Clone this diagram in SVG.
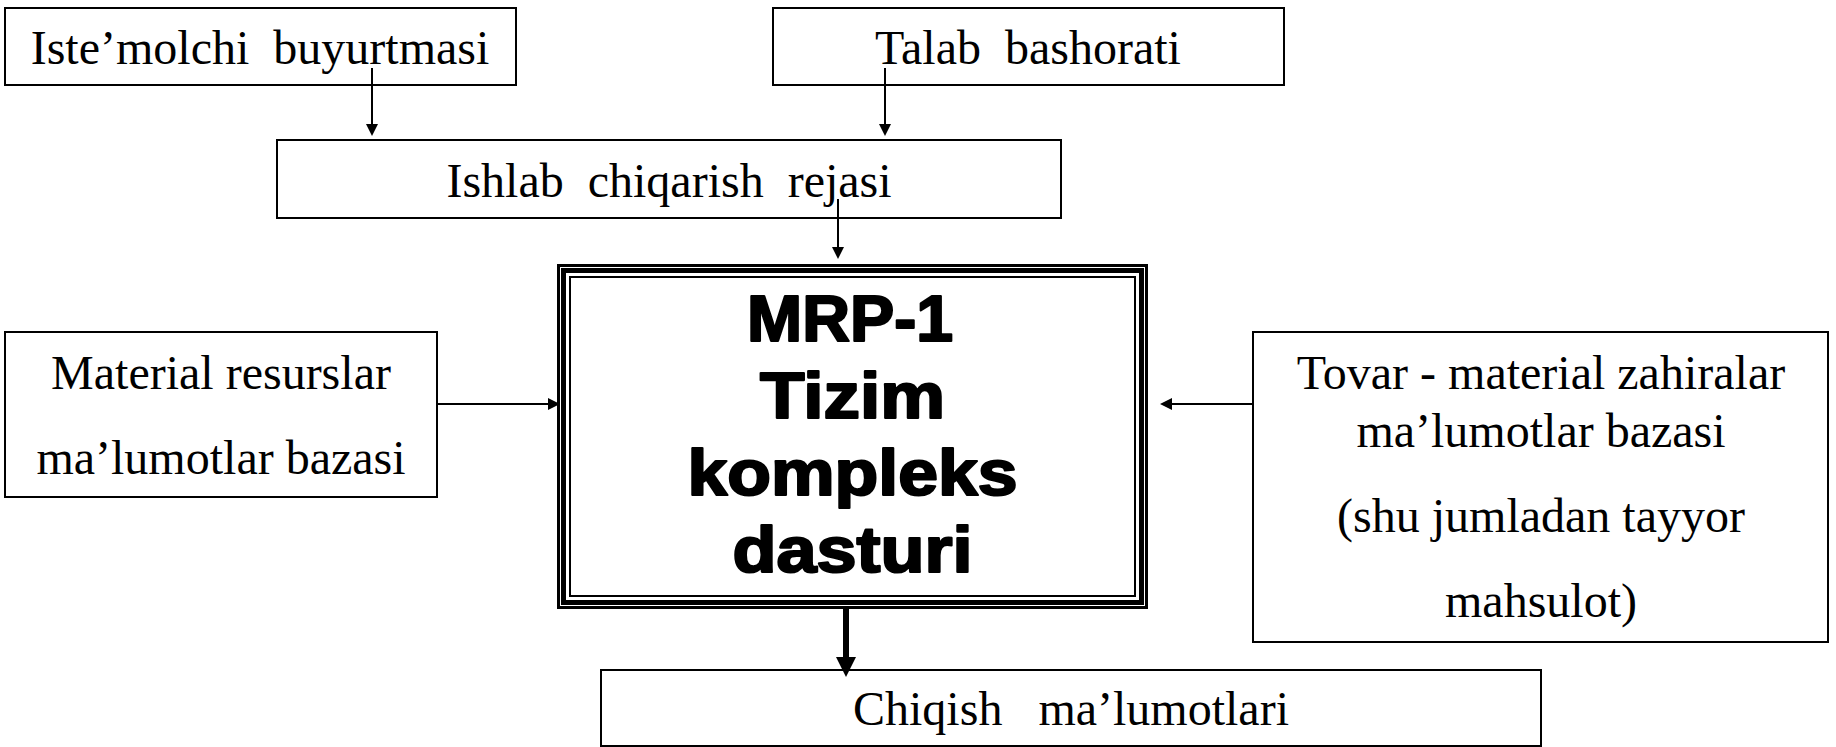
<svg xmlns="http://www.w3.org/2000/svg" width="1836" height="747" viewBox="0 0 1836 747">
<style>
.box{fill:#fff;stroke:#000;stroke-width:2}
.t{font-family:"Liberation Serif","Times New Roman",serif;font-size:48px;fill:#000;text-anchor:middle}
.b{font-family:"Liberation Sans",Arial,sans-serif;font-size:64px;font-weight:bold;fill:#000;stroke:#000;stroke-width:2.2;stroke-linejoin:round;text-anchor:middle}
.c{stroke:#000;stroke-width:2;fill:none}
.ct{stroke:#000;stroke-width:6;fill:none}
</style>
<defs>
<marker id="ah" viewBox="0 0 10 10" refX="0" refY="5" markerWidth="15" markerHeight="12" markerUnits="userSpaceOnUse" orient="auto"><path d="M0,0 L10,5 L0,10 z" fill="#000"/></marker>
<marker id="ahb" viewBox="0 0 10 10" refX="0" refY="5" markerWidth="20" markerHeight="20" markerUnits="userSpaceOnUse" orient="auto"><path d="M0,0 L10,5 L0,10 z" fill="#000"/></marker>
</defs>
<rect width="1836" height="747" fill="#fff"/>
<g id="n1"><rect class="box" x="5" y="8" width="511" height="77"/><text class="t" x="260" y="64" xml:space="preserve">Iste’molchi  buyurtmasi</text></g>
<g id="n2"><rect class="box" x="773" y="8" width="511" height="77"/><text class="t" x="1028" y="64" xml:space="preserve">Talab  bashorati</text></g>
<g id="n3"><rect class="box" x="277" y="140" width="784" height="78"/><text class="t" x="669" y="197" xml:space="preserve">Ishlab  chiqarish  rejasi</text></g>
<g id="n4"><rect class="box" x="5" y="332" width="432" height="165"/><text class="t" x="221" y="389">Material resurslar</text><text class="t" x="221" y="474">ma’lumotlar bazasi</text></g>
<g id="n5"><rect class="box" x="1253" y="332" width="575" height="310"/><text class="t" x="1541" y="389">Tovar - material zahiralar</text><text class="t" x="1541" y="447">ma’lumotlar bazasi</text><text class="t" x="1541" y="532">(shu jumladan tayyor</text><text class="t" x="1541" y="617">mahsulot)</text></g>
<g id="n6"><rect class="box" x="601" y="670" width="940" height="76"/><text class="t" x="1071" y="725" xml:space="preserve">Chiqish   ma’lumotlari</text></g>
<g id="mrp">
<rect x="557" y="264" width="591" height="345" fill="#fff"/>
<rect x="558.5" y="265.5" width="588" height="342" fill="none" stroke="#000" stroke-width="3"/>
<rect x="563.5" y="270.5" width="578" height="332" fill="none" stroke="#000" stroke-width="5"/>
<rect x="570" y="277" width="565" height="319" fill="none" stroke="#000" stroke-width="2"/>
<text class="b" x="850" y="341" textLength="206" lengthAdjust="spacingAndGlyphs">MRP-1</text>
<text class="b" x="852.5" y="418" textLength="185" lengthAdjust="spacingAndGlyphs">Tizim</text>
<text class="b" x="852.5" y="495" textLength="330" lengthAdjust="spacingAndGlyphs">kompleks</text>
<text class="b" x="852.5" y="572" textLength="240" lengthAdjust="spacingAndGlyphs">dasturi</text>
</g>
<g id="connectors">
<line class="c" x1="372" y1="68" x2="372" y2="124" marker-end="url(#ah)"/>
<line class="c" x1="885" y1="68" x2="885" y2="124" marker-end="url(#ah)"/>
<line class="c" x1="838" y1="199" x2="838" y2="247" marker-end="url(#ah)"/>
<line class="c" x1="437" y1="404" x2="548" y2="404" marker-end="url(#ah)"/>
<line class="c" x1="1253" y1="404" x2="1172" y2="404" marker-end="url(#ah)"/>
<line class="ct" x1="846" y1="609" x2="846" y2="657" marker-end="url(#ahb)"/>
</g>
</svg>
